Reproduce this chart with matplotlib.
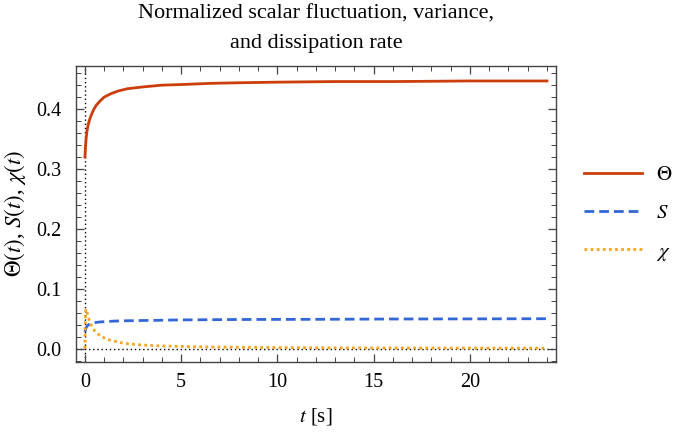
import matplotlib
matplotlib.use("Agg")
import matplotlib.pyplot as plt
from matplotlib.ticker import MultipleLocator

plt.rcParams['font.family'] = ['Liberation Serif', 'DejaVu Serif']
plt.rcParams['mathtext.fontset'] = 'stix'

# values
t_theta = [0, 0.03, 0.06, 0.1, 0.15, 0.2, 0.3, 0.45, 0.6, 0.8, 1.0, 1.3, 1.7,
           2.2, 3, 4, 5, 6.5, 8, 10, 13, 16, 20, 24]
theta = [0.320, 0.338, 0.350, 0.362, 0.371, 0.378, 0.388, 0.399, 0.407, 0.414,
         0.420, 0.425, 0.430, 0.434, 0.437, 0.440, 0.441, 0.443, 0.444, 0.445,
         0.446, 0.446, 0.447, 0.447]

t_s = [0, 0.03, 0.06, 0.1, 0.15, 0.2, 0.3, 0.5, 0.75, 1, 1.5, 2, 3, 5, 8, 12,
       16, 20, 24]
s_var = [0.028, 0.032, 0.035, 0.037, 0.039, 0.040, 0.042, 0.0435, 0.0445,
         0.045, 0.046, 0.0465, 0.047, 0.048, 0.0487, 0.049, 0.0495, 0.0497,
         0.050]

t_chi = [0, 0.01, 0.02, 0.035, 0.05, 0.075, 0.1, 0.15, 0.2, 0.3, 0.5, 0.8,
         1.2, 2, 3, 4, 6, 8, 12, 16, 20, 24]
chi = [0.0, 0.030, 0.050, 0.062, 0.066, 0.065, 0.062, 0.056, 0.050, 0.041,
       0.030, 0.021, 0.015, 0.009, 0.006, 0.0045, 0.003, 0.0022, 0.0015,
       0.0011, 0.0009, 0.0008]

fig = plt.figure(figsize=(6.97, 4.37), dpi=100)
ax = fig.add_axes([0.1086, 0.172, 0.6891, 0.677])

ax.axvline(0, color='black', lw=1.0, ls=(0, (1, 2)), zorder=1)
ax.axhline(0, color='black', lw=1.0, ls=(0, (1, 2)), zorder=1)

ax.plot(t_theta, theta, color='#cc3d0c', lw=2.0, label=r'$\Theta$', zorder=3)
ax.plot(t_s, s_var, color='#3366d6', lw=2.0, ls=(0, (3.5, 1.8)),
        label=r'$S$', zorder=3)
ax.plot(t_chi, chi, color='#f9a31b', lw=2.0, ls=(0, (1, 1.2)),
        label=r'$\chi$', zorder=3)

ax.set_xlim(-0.48, 24.47)
ax.set_ylim(-0.022, 0.472)

ax.xaxis.set_major_locator(MultipleLocator(5))
ax.xaxis.set_minor_locator(MultipleLocator(1))
ax.yaxis.set_major_locator(MultipleLocator(0.1))
ax.yaxis.set_minor_locator(MultipleLocator(0.02))
ax.yaxis.set_major_formatter(plt.FuncFormatter(lambda v, p: f"{v:.1f}"))

ax.tick_params(which='both', direction='in', top=True, right=True,
               colors='#444444', labelcolor='black', labelsize=14.5)
ax.tick_params(which='major', length=6, width=0.9)
ax.tick_params(which='minor', length=3.5, width=0.7)
ax.tick_params(axis='y', which='major', pad=10)
ax.tick_params(axis='x', which='major', pad=8)
for sp in ax.spines.values():
    sp.set_color('#444444')
    sp.set_linewidth(1.0)

ax.set_xlabel(r'$t$ [s]', fontsize=15, labelpad=10)
ax.set_ylabel(r'$\Theta(t)$, $S(t)$, $\chi(t)$', fontsize=16.5, labelpad=6)
ax.set_title('Normalized scalar fluctuation, variance,\nand dissipation rate',
             fontsize=16, linespacing=1.75, pad=13)

leg = ax.legend(loc='center left', bbox_to_anchor=(1.02, 0.5),
                frameon=False, fontsize=15, handlelength=2.75,
                labelspacing=0.9, handletextpad=0.7)

fig.savefig('out.png', dpi=100)
